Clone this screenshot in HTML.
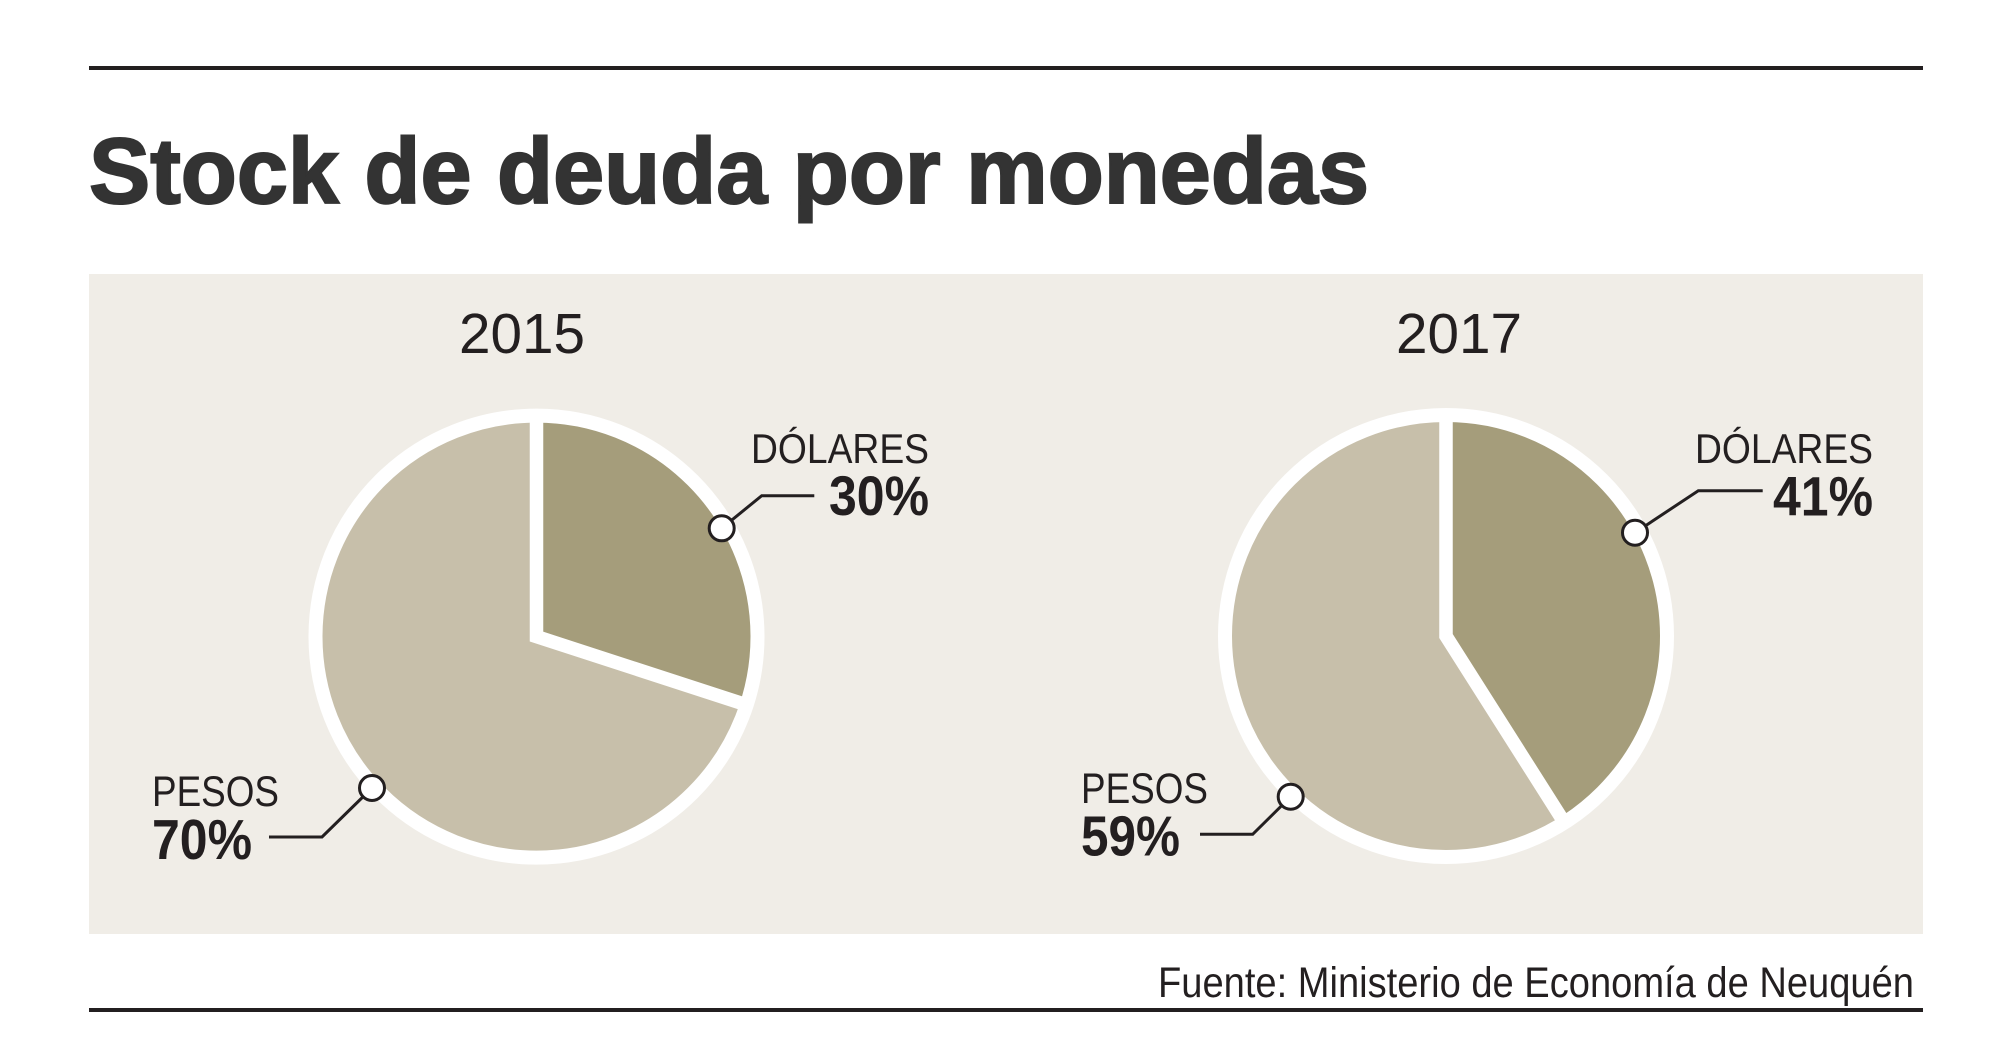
<!DOCTYPE html>
<html>
<head>
<meta charset="utf-8">
<style>
  html, body { margin: 0; padding: 0; background: #ffffff; }
  svg { display: block; }
  text { font-family: "Liberation Sans", "DejaVu Sans", sans-serif; fill: #231f20; }
</style>
</head>
<body>
<svg width="2000" height="1059" viewBox="0 0 2000 1059" xmlns="http://www.w3.org/2000/svg">
  <rect x="0" y="0" width="2000" height="1059" fill="#ffffff"/>

  <!-- top rule -->
  <rect x="89" y="66" width="1834" height="4" fill="#231f20"/>

  <!-- title -->
  <text x="89" y="203" font-size="93" font-weight="bold" style="fill:#333333" stroke="#333333" stroke-width="2" textLength="1280" lengthAdjust="spacingAndGlyphs">Stock de deuda por monedas</text>

  <!-- panel -->
  <rect x="89" y="274" width="1834" height="660" fill="#f0ede7"/>

  <!-- year labels -->
  <text x="459" y="353" font-size="57" textLength="126" lengthAdjust="spacingAndGlyphs">2015</text>
  <text x="1396" y="353" font-size="57" textLength="126" lengthAdjust="spacingAndGlyphs">2017</text>

  <!-- PIE 1 (2015) -->
  <circle cx="536.5" cy="636.6" r="221" fill="#c7bfaa"/>
  <path d="M536.5 636.6 L536.5 415.6 A221 221 0 0 1 746.7 704.9 Z" fill="#a59d7b"/>
  <circle cx="536.5" cy="636.6" r="221" fill="none" stroke="#ffffff" stroke-width="14"/>
  <path d="M536.5 415.6 L536.5 636.6 L746.7 704.9" fill="none" stroke="#ffffff" stroke-width="13.5" stroke-linejoin="miter" stroke-miterlimit="10"/>

  <!-- PIE 2 (2017) -->
  <circle cx="1446" cy="636" r="221" fill="#c7bfaa"/>
  <path d="M1446 636 L1446 415 A221 221 0 0 1 1564.4 822.6 Z" fill="#a59d7b"/>
  <circle cx="1446" cy="636" r="221" fill="none" stroke="#ffffff" stroke-width="14"/>
  <path d="M1446 415 L1446 636 L1564.4 822.6" fill="none" stroke="#ffffff" stroke-width="13.5" stroke-linejoin="miter" stroke-miterlimit="10"/>

  <!-- callout lines -->
  <g fill="none" stroke="#231f20" stroke-width="3">
    <polyline points="721.7,528.3 761.7,495.7 814.3,495.7"/>
    <polyline points="372,788 322,837 269,837"/>
    <polyline points="1635,532.7 1698.3,490.7 1762.7,490.7"/>
    <polyline points="1290.7,796.7 1252.7,834.3 1200,834.3"/>
  </g>
  <g fill="#ffffff" stroke="#231f20" stroke-width="3">
    <circle cx="721.7" cy="528.3" r="12.5"/>
    <circle cx="372" cy="788" r="12.5"/>
    <circle cx="1635" cy="532.7" r="12.5"/>
    <circle cx="1290.7" cy="796.7" r="12.5"/>
  </g>

  <!-- labels pie 1 -->
  <text x="751" y="463" font-size="42" textLength="178" lengthAdjust="spacingAndGlyphs">DÓLARES</text>
  <text x="829" y="515" font-size="56" font-weight="bold" textLength="100" lengthAdjust="spacingAndGlyphs">30%</text>
  <text x="152" y="806" font-size="43" textLength="127" lengthAdjust="spacingAndGlyphs">PESOS</text>
  <text x="152" y="859" font-size="57" font-weight="bold" textLength="100" lengthAdjust="spacingAndGlyphs">70%</text>

  <!-- labels pie 2 -->
  <text x="1695" y="463" font-size="42" textLength="178" lengthAdjust="spacingAndGlyphs">DÓLARES</text>
  <text x="1773" y="515.5" font-size="56" font-weight="bold" textLength="100" lengthAdjust="spacingAndGlyphs">41%</text>
  <text x="1081" y="803" font-size="43" textLength="127" lengthAdjust="spacingAndGlyphs">PESOS</text>
  <text x="1081" y="855.5" font-size="57" font-weight="bold" textLength="99" lengthAdjust="spacingAndGlyphs">59%</text>

  <!-- footer -->
  <text x="1158" y="997" font-size="43" textLength="756" lengthAdjust="spacingAndGlyphs">Fuente: Ministerio de Economía de Neuquén</text>
  <rect x="89" y="1008" width="1834" height="4" fill="#231f20"/>
</svg>
</body>
</html>
